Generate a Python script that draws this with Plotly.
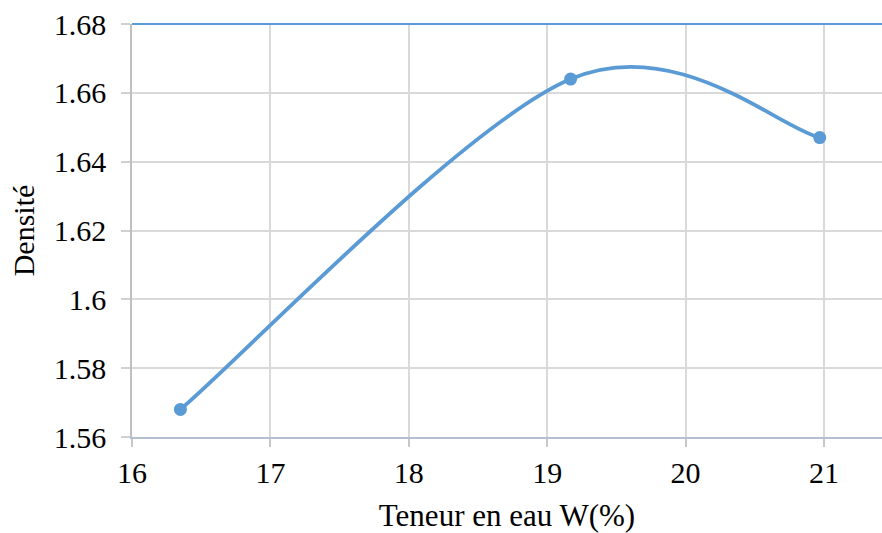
import plotly.graph_objects as go

# Teneur en eau (%) and densité measured at each point
teneur_eau = [16.35, 19.17, 20.97]
densite = [1.568, 1.664, 1.647]

x_ticks = [16, 17, 18, 19, 20, 21]
y_ticks = [1.56, 1.58, 1.60, 1.62, 1.64, 1.66, 1.68]

BLUE = "#5b9bd5"
FONT = "Liberation Serif"


def smooth_path(xs, ys):
    """Cubic Bezier path through the points (Catmull-Rom style tangents,
    one sixth of the neighbour span), the smoothing spreadsheet charts use."""
    n = len(xs)
    parts = [f"M {xs[0]},{ys[0]}"]
    for i in range(n - 1):
        xa, ya = (xs[i - 1], ys[i - 1]) if i > 0 else (xs[i], ys[i])
        xb, yb = (xs[i + 2], ys[i + 2]) if i + 2 < n else (xs[i + 1], ys[i + 1])
        c1x = xs[i] + (xs[i + 1] - xa) / 6
        c1y = ys[i] + (ys[i + 1] - ya) / 6
        c2x = xs[i + 1] - (xb - xs[i]) / 6
        c2y = ys[i + 1] - (yb - ys[i]) / 6
        parts.append(f"C {c1x},{c1y} {c2x},{c2y} {xs[i + 1]},{ys[i + 1]}")
    return " ".join(parts)


fig = go.Figure()
fig.add_trace(go.Scatter(
    x=teneur_eau,
    y=densite,
    mode="markers",
    marker=dict(color=BLUE, size=13),
    showlegend=False,
))

fig.update_layout(
    width=882,
    height=533,
    margin=dict(l=132, r=0, t=24, b=96),
    paper_bgcolor="white",
    plot_bgcolor="white",
    font=dict(family=FONT, color="#000000"),
    xaxis=dict(
        range=[16, 21.42],
        tickvals=x_ticks,
        ticktext=[f"{v:g}" for v in x_ticks],
        tickfont=dict(size=30, family=FONT),
        showgrid=True,
        gridcolor="#d9d9d9",
        gridwidth=1.5,
        zeroline=False,
        showline=True,
        linecolor="#b4c0d0",
        linewidth=2,
        ticks="outside",
        ticklen=8,
        tickcolor="#c8c8c8",
        tickwidth=1.5,
        title=dict(text="Teneur en eau W(%)", font=dict(size=31, family=FONT), standoff=16),
    ),
    yaxis=dict(
        range=[1.56, 1.68],
        tickvals=y_ticks,
        ticktext=[f"{v:g}" for v in y_ticks],
        tickfont=dict(size=30, family=FONT),
        ticklabelstandoff=9,
        showgrid=True,
        gridcolor="#d9d9d9",
        gridwidth=1.5,
        zeroline=False,
        showline=True,
        linecolor="#bfbfbf",
        linewidth=1.5,
        ticks="outside",
        ticklen=9,
        tickcolor="#d0d0d0",
        tickwidth=1.5,
        title=dict(text="Densité", font=dict(size=30, family=FONT), standoff=10),
    ),
    shapes=[
        dict(
            type="path", xref="x", yref="y", layer="between",
            path=smooth_path(teneur_eau, densite),
            line=dict(color=BLUE, width=3.8),
        ),
        dict(
            type="line", xref="paper", yref="paper",
            x0=0, x1=1, y0=1, y1=1,
            line=dict(color=BLUE, width=2),
        ),
    ],
)

fig.write_html("out.html")
